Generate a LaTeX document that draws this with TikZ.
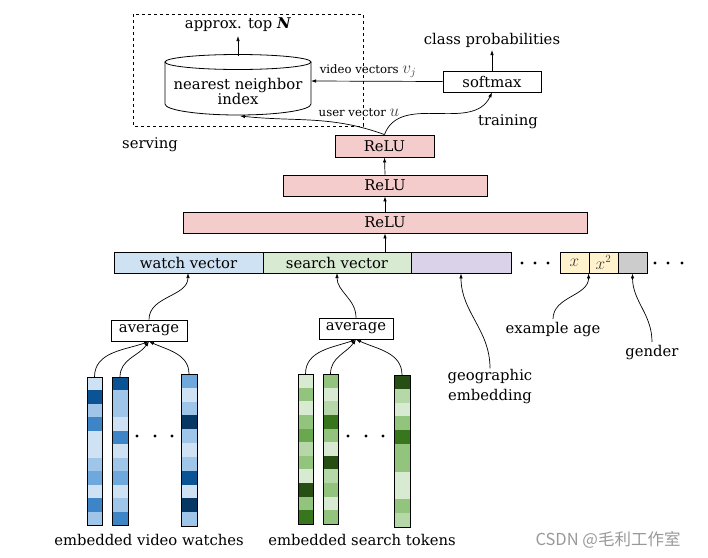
\documentclass[tikz,border=0pt]{standalone}
\usepackage{fontspec}
\setmainfont{DejaVu Serif}
\newfontfamily\cjk{Noto Sans CJK SC}
\usetikzlibrary{arrows.meta}
\definecolor{reluC}{HTML}{F4CCCC}
\definecolor{watchC}{HTML}{CFE2F3}
\definecolor{searchC}{HTML}{D9EAD3}
\definecolor{geoC}{HTML}{D9D2E9}
\definecolor{ageC}{HTML}{FFF2CC}
\definecolor{genC}{HTML}{CCCCCC}
\definecolor{bA}{HTML}{CFE2F3}
\definecolor{bB}{HTML}{9FC5E8}
\definecolor{bC}{HTML}{6FA8DC}
\definecolor{bD}{HTML}{3D85C6}
\definecolor{bE}{HTML}{0B5394}
\definecolor{bF}{HTML}{073763}
\definecolor{gA}{HTML}{D9EAD3}
\definecolor{gB}{HTML}{B6D7A8}
\definecolor{gC}{HTML}{93C47D}
\definecolor{gD}{HTML}{6AA84F}
\definecolor{gE}{HTML}{38761D}
\definecolor{gF}{HTML}{274E13}
\newcommand\cellcol[5]{%
  \pgfmathsetmacro\hh{(#4-#3)/11}%
  \foreach \c [count=\i from 0] in {#5} {\fill[\c] (#1,{-#3-\i*\hh}) rectangle (#2,{-#3-(\i+1)*\hh});}%
  \node[colbox, minimum width={#2-#1}, minimum height={#4-#3}, anchor=north west] at (#1,-#3) {};}
\newcommand\bigmath[1]{{\fontsize{16}{18}\selectfont\color{black!75}$#1$}}
\begin{document}
\begin{tikzpicture}[x=1pt,y=1pt,
  font=\fontsize{14.8}{17}\selectfont,
  >={Latex[length=5pt,width=3.5pt]},
  every path/.style={line width=0.8pt},
  box/.style={draw, inner sep=0pt, minimum height=21pt},
  colbox/.style={draw, inner sep=0pt, line width=1pt},
  small/.style={font=\fontsize{11.7}{14}\selectfont},
  link/.style={->, line width=0.7pt},
  dot/.style={circle, fill=black, inner sep=0pt, minimum size=3.2pt}]
\useasboundingbox (0,0) rectangle (708,-557);
% serving box
\draw[dashed, line width=0.8pt] (133,-14) rectangle (363,-126);
\node (topn) at (238,-25) {approx. top \textbf{\textit{N}}};
% cylinder
\draw[fill=white] (165,-62) -- (165,-104) arc[start angle=180, end angle=360, x radius=73, y radius=11] -- (311,-62);
\draw (238,-62) ellipse[x radius=73, y radius=7.5];
\node[align=center, inner sep=0pt] (nn) at (238,-91) {nearest neighbor\\[-2pt]index};
\coordinate (cyltop) at (238,-56);
\coordinate (cylright) at (311,-81);
\coordinate (cylbot) at (240,-116);
\draw[link] (cyltop) -- (238,-36);
% softmax
\node[box, minimum width=98pt] (soft) at (492,-81.5) {softmax};
\node (cprob) at (492,-40) {class probabilities};
\draw[link] (soft.north) -- (492,-50);
\draw[link] (soft.west) -- (cylright);
\node[small] (vv) at (368,-71) {video vectors \bigmath{v_j}};
\node[small] (uv) at (359,-113) {user vector \bigmath{u}};
\node (serving) at (150,-145) {serving};
\node (training) at (508,-122) {training};
% ReLU stack
\node[box, fill=reluC, minimum width=99pt, minimum height=22pt] (r1) at (384.5,-146) {ReLU};
\node[box, fill=reluC, minimum width=204pt] (r2) at (385,-185.5) {ReLU};
\node[box, fill=reluC, minimum width=404pt] (r3) at (385,-222.5) {ReLU};
\draw[link] (r1.north) to[out=160, in=-6] (cylbot);
\draw[link] (r1.north) to[out=70, in=-115] (soft.south);
\draw[link] (r2.north) -- (r1.south);
\draw[link] (r3.north) -- (r2.south);
% input row
\node[box, fill=watchC, minimum width=149pt] (watch) at (188.5,-262.5) {watch vector};
\node[box, fill=searchC, minimum width=148pt] (search) at (337,-262.5) {search vector};
\node[box, fill=geoC, minimum width=100pt] (geo) at (461,-262.5) {};
\node[box, fill=ageC, minimum width=29pt] (xa) at (574.5,-262.5) {\bigmath{x}};
\node[box, fill=ageC, minimum width=29pt] (xb) at (603.5,-262.5) {\bigmath{x^2}};
\node[box, fill=genC, minimum width=29pt] (gen) at (632.5,-262.5) {};
\coordinate (rowtop) at (385,-252);
\draw[link] (rowtop) -- (r3.south);
\foreach \x in {522,535,548,655,668,682} \node[dot] at (\x,-263) {};
% side features
\node[align=center, inner sep=1pt] (geol) at (490,-387) {geographic\\[3pt]embedding};
\node (agel) at (553,-330) {example age};
\node (genl) at (652,-353) {gender};
\draw[link] (geol.north) to[out=90, in=-90] (geo.south);
\draw[link] (agel.north) to[out=90, in=-90] (xb.south west);
\draw[link] (genl.north) to[out=90, in=-90] (gen.south);
% averages
\node[box, minimum width=76pt] (avg1) at (149,-330.5) {average};
\node[box, minimum width=74pt] (avg2) at (356,-328.5) {average};
\draw[link] (avg1.north) to[out=90, in=-90] (188,-273);
\draw[link] (avg2.north) to[out=90, in=-90] (337,-273);
% video watch columns
\cellcol{87}{102}{377}{525}{bA,bE,bB,bD,bA,bA,bB,bC,bA,bD,bB}
\cellcol{112}{128}{377}{525}{bE,bB,bB,bA,bD,bA,bB,bC,bA,bB,bD}
\cellcol{181}{197}{374}{526}{bC,bA,bB,bF,bB,bA,bB,bE,bA,bF,bB}
\coordinate (v1) at (94.5,-377);
\coordinate (v2) at (120,-377);
\coordinate (v3) at (189,-374);
\draw[link] (v1) to[out=90, in=-160] (avg1.south);
\draw[link] (v2) to[out=90, in=-125] (avg1.south);
\draw[link] (v3) to[out=90, in=-25] (avg1.south);
\foreach \x in {137,155,172} \node[dot] at (\x,-436) {};
% search token columns
\cellcol{298}{313}{374}{524}{gA,gC,gA,gC,gD,gB,gC,gA,gF,gC,gE}
\cellcol{323}{338}{374}{524}{gC,gA,gB,gE,gC,gA,gF,gB,gC,gA,gC}
\cellcol{394}{410}{375}{527}{gF,gB,gA,gC,gE,gC,gC,gA,gA,gC,gB}
\coordinate (s1) at (305.5,-374);
\coordinate (s2) at (330.5,-374);
\coordinate (s3) at (402,-375);
\draw[link] (s1) to[out=90, in=-160] (avg2.south);
\draw[link] (s2) to[out=90, in=-125] (avg2.south);
\draw[link] (s3) to[out=90, in=-25] (avg2.south);
\foreach \x in {348,366,383} \node[dot] at (\x,-436) {};
% captions
\node (capv) at (149,-540) {embedded video watches};
\node (caps) at (362,-540) {embedded search tokens};
\node[text=black!40, font=\cjk\fontsize{16.5}{19}\selectfont] (wm) at (608,-540) {CSDN @毛利工作室};
\end{tikzpicture}
\end{document}
